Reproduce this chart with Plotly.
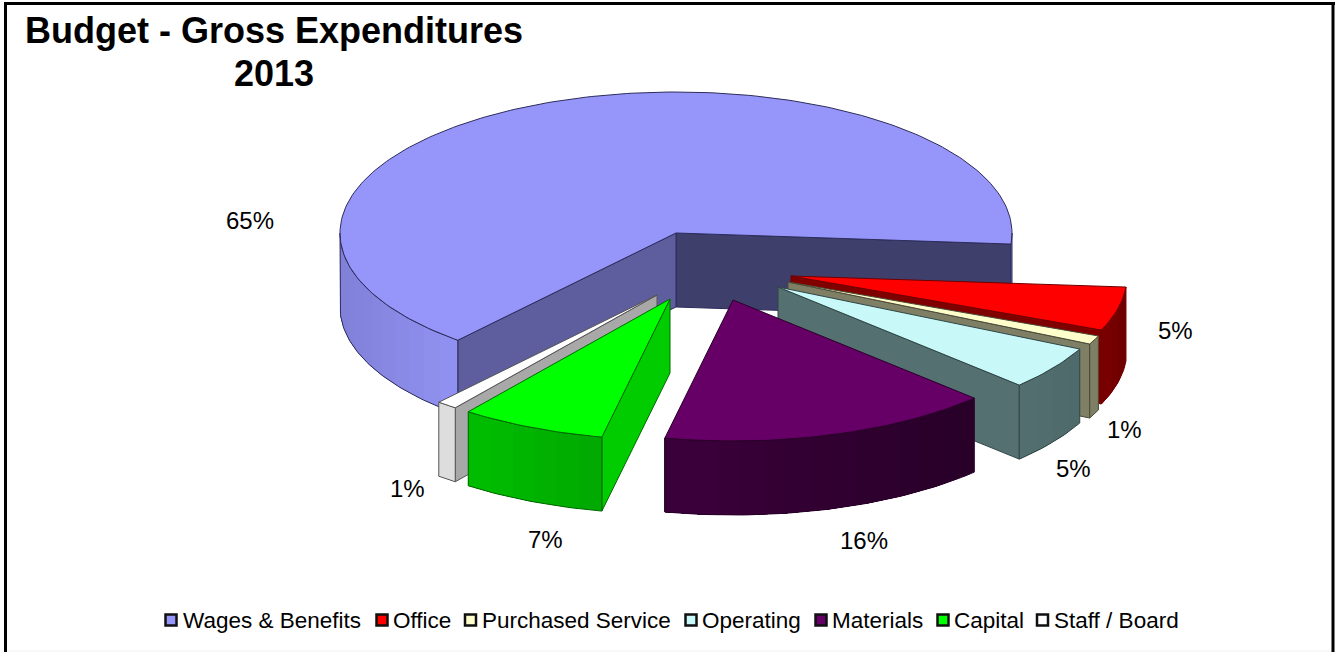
import math
import plotly.graph_objects as go

# Budget shares, in percent, in legend order
CATEGORIES = ["Wages & Benefits", "Office", "Purchased Service", "Operating",
              "Materials", "Capital", "Staff / Board"]
SHARES = [65, 5, 1, 5, 16, 7, 1]

# Slice colours: top face, cut wall facing right, cut wall facing left, rim gradient, edge
TOP_COLORS = ["#9696FA", "#FF0000", "#FFFFCC", "#C8F8F8", "#660066", "#00FF00", "#FFFFFF"]
WALL_END = ["#3F3F6C", "#800000", "#7F7F66", "#557070", "#33003A", "#00BB00", "#DDDDDD"]
WALL_START = ["#5E5E9E", "#800000", "#7F7F66", "#557070", "#33003A", "#00CC00", "#A8A8A8"]
RIM_COLORS = [("#8080D8", "#9090F0"), ("#800000", "#6E0000"), ("#7F7F66", "#7F7F66"),
              ("#557070", "#4F6A6A"), ("#3C003C", "#280028"), ("#00C000", "#00AA00"),
              ("#DDDDDD", "#DDDDDD")]
EDGE_COLORS = ["#2C2C5C", "#700000", "#4A4A38", "#2F4646", "#2A002A", "#006A00", "#555555"]

# Projection of the pie on the page, in pixels
CENTER = (676, 233)
RX, RY = 336, 141
DEPTH = 74
START_ANGLE = 130.5
# Explosion offset of each slice from the pie centre
EXPLODE = [(0, 0), (115, 43), (112, 49), (102, 54), (57, 67), (-6, 66), (-19, 62)]
# Back-to-front drawing order
PAINT_ORDER = [0, 1, 2, 3, 6, 5, 4]

LABEL_POS = [(250, 220), (1175, 330), (1124, 429), (1073, 468), (864, 540), (545, 539), (407, 488)]
LEGEND_SWATCH_X = [171, 382, 470.5, 691, 821, 943, 1042.5]
LEGEND_TEXT_X = [183, 392.5, 482, 701.5, 831.5, 953.5, 1054]
LEGEND_Y = 620
FONT = "Liberation Sans, Arial, sans-serif"


def hex_mix(a, b, f):
    ca = [int(a[i:i + 2], 16) for i in (1, 3, 5)]
    cb = [int(b[i:i + 2], 16) for i in (1, 3, 5)]
    return "#" + "".join(f"{round(x + (y - x) * f):02X}" for x, y in zip(ca, cb))


def point(apex, deg, drop=0):
    r = math.radians(deg)
    return apex[0] + RX * math.cos(r), apex[1] + RY * math.sin(r) + drop


def arc(apex, t0, t1, drop=0, step=1.0):
    n = max(2, int(abs(t1 - t0) / step) + 1)
    return [point(apex, t0 + (t1 - t0) * i / (n - 1), drop) for i in range(n)]


fig = go.Figure()


def polygon(pts, fill, line=None, width=1.0):
    xs = [p[0] for p in pts] + [pts[0][0]]
    ys = [p[1] for p in pts] + [pts[0][1]]
    fig.add_trace(go.Scatter(x=xs, y=ys, mode="lines", fill="toself", fillcolor=fill,
                             line=dict(color=line or fill, width=width if line else 0),
                             hoverinfo="skip", showlegend=False))


def wall(apex, deg, fill, edge):
    outer = point(apex, deg)
    polygon([apex, outer, (outer[0], outer[1] + DEPTH), (apex[0], apex[1] + DEPTH)], fill, edge)


def rim(apex, t0, t1, colors, edge):
    # The rim faces the viewer only on the lower half of the ellipse
    for k in (0, 360):
        a, b = max(t0, k), min(t1, k + 180)
        if a >= b:
            continue
        pts = arc(apex, a, b)
        xs = [p[0] for p in pts]
        xmin, xmax = min(xs), max(xs)
        bands = max(1, len(pts) // 4)
        # Each band runs on to the end of the arc, so neighbours leave no seam
        for j in range(bands):
            part = pts[j * (len(pts) - 1) // bands:]
            f = (part[0][0] - xmin) / max(xmax - xmin, 1)
            col = hex_mix(colors[0], colors[1], f)
            polygon(part + [(x, y + DEPTH) for x, y in reversed(part)], col)
        outline = pts + [(x, y + DEPTH) for x, y in reversed(pts)]
        fig.add_trace(go.Scatter(x=[p[0] for p in outline] + [outline[0][0]],
                                 y=[p[1] for p in outline] + [outline[0][1]],
                                 mode="lines", line=dict(color=edge, width=1.0),
                                 hoverinfo="skip", showlegend=False))


# Slice angles follow from the shares, clockwise from the start angle
bounds = []
cum = 0
for share in SHARES:
    bounds.append((START_ANGLE + cum * 3.6, START_ANGLE + (cum + share) * 3.6))
    cum += share

for i in PAINT_ORDER:
    t0, t1 = bounds[i]
    apex = (CENTER[0] + EXPLODE[i][0], CENTER[1] + EXPLODE[i][1])
    if math.cos(math.radians(t1)) > 0:
        wall(apex, t1, WALL_END[i], EDGE_COLORS[i])
    if -math.cos(math.radians(t0)) > 0:
        wall(apex, t0, WALL_START[i], EDGE_COLORS[i])
    rim(apex, t0, t1, RIM_COLORS[i], EDGE_COLORS[i])
    polygon([apex] + arc(apex, t0, t1), TOP_COLORS[i], EDGE_COLORS[i])

# Legend swatches
for name, color, x in zip(CATEGORIES, TOP_COLORS, LEGEND_SWATCH_X):
    fig.add_trace(go.Scatter(x=[x], y=[LEGEND_Y], mode="markers", name=name, showlegend=False,
                             hoverinfo="skip",
                             marker=dict(symbol="square", size=11, color=color,
                                         line=dict(color="#111111", width=2.5))))

annotations = []


def text(x, y, s, size, bold=False, anchor="center"):
    annotations.append(dict(x=x, y=y, xref="x", yref="y", text=f"<b>{s}</b>" if bold else s,
                            showarrow=False, xanchor=anchor, yanchor="middle",
                            borderpad=0, borderwidth=0,
                            font=dict(family=FONT, size=size, color="#000000")))


text(274, 30, "Budget - Gross Expenditures", 36, bold=True)
text(274, 73, "2013", 36, bold=True)
for share, (x, y) in zip(SHARES, LABEL_POS):
    text(x, y, f"{share}%", 24)
for name, x in zip(CATEGORIES, LEGEND_TEXT_X):
    text(x, LEGEND_Y, name, 22.5, anchor="left")

# Chart frame: three heavy sides and a faint bottom rule
frame = dict(type="line", xref="x", yref="y", line=dict(color="#000000", width=3))
shapes = [
    dict(type="line", xref="x", yref="y", x0=7, y0=651, x1=1332, y1=651,
         line=dict(color="#F0F0F0", width=1)),
    {**frame, "x0": 5.5, "y0": 2, "x1": 5.5, "y1": 652},
    {**frame, "x0": 4, "y0": 3.5, "x1": 1335, "y1": 3.5},
    {**frame, "x0": 1333, "y0": 2, "x1": 1333, "y1": 652},
]

fig.update_layout(
    width=1335, height=652, margin=dict(l=0, r=0, t=0, b=0),
    paper_bgcolor="#FFFFFF", plot_bgcolor="#FFFFFF", showlegend=False,
    xaxis=dict(range=[0, 1335], visible=False, fixedrange=True),
    yaxis=dict(range=[652, 0], visible=False, fixedrange=True),
    annotations=annotations, shapes=shapes,
)
fig.write_html("out.html", config={"displayModeBar": False})
